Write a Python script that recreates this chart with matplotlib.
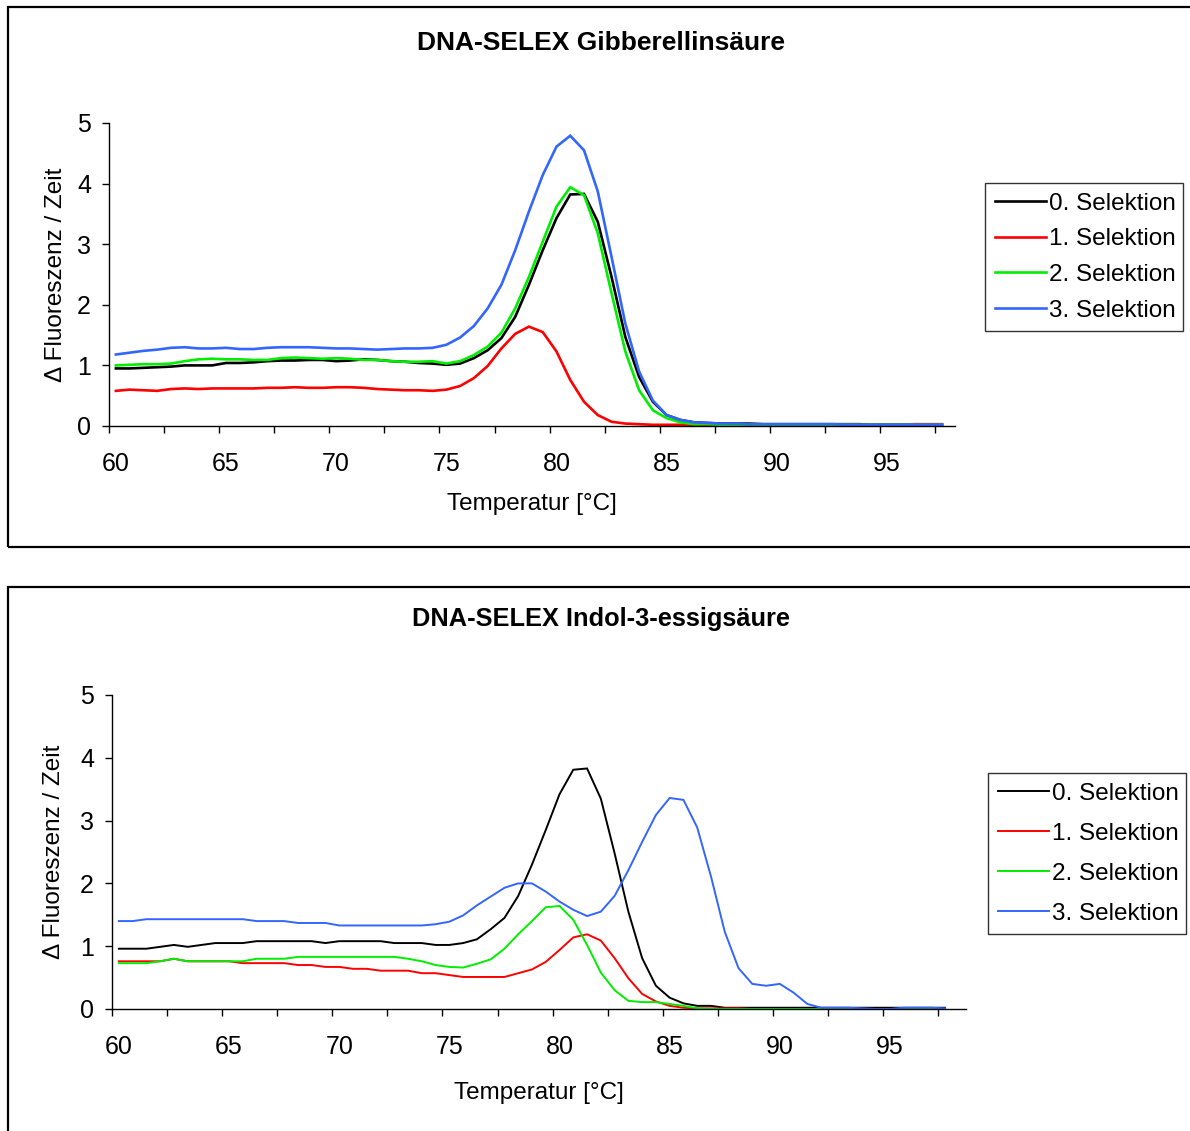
import numpy as np
import matplotlib.pyplot as plt
from matplotlib.patches import Rectangle
from matplotlib.ticker import FixedLocator

plt.rcParams['font.family'] = ['Liberation Sans', 'DejaVu Sans']

#--- Temperatur-Achse: 61 Messpunkte, 60 .. 97.5 °C
temp = 60 + 0.625 * np.arange(61)
labels = ['0. Selektion', '1. Selektion', '2. Selektion', '3. Selektion']
colors = ['#000000', '#FF0000', '#00EE00', '#3366FF']

#--- DNA-SELEX Gibberellinsäure
gib_0 = [0.95, 0.95, 0.96, 0.97, 0.98, 1.00, 1.00, 1.00, 1.04, 1.04,
         1.05, 1.07, 1.08, 1.08, 1.09, 1.09, 1.07, 1.08, 1.10, 1.09,
         1.07, 1.06, 1.04, 1.03, 1.01, 1.03, 1.12, 1.25, 1.45, 1.80,
         2.33, 2.90, 3.43, 3.82, 3.83, 3.37, 2.46, 1.47, 0.81, 0.40,
         0.18, 0.10, 0.06, 0.05, 0.04, 0.04, 0.04, 0.03, 0.03, 0.03,
         0.03, 0.03, 0.03, 0.03, 0.03, 0.02, 0.02, 0.02, 0.02, 0.02, 0.02]
gib_1 = [0.58, 0.60, 0.59, 0.58, 0.61, 0.62, 0.61, 0.62, 0.62, 0.62,
         0.62, 0.63, 0.63, 0.64, 0.63, 0.63, 0.64, 0.64, 0.63, 0.61,
         0.60, 0.59, 0.59, 0.58, 0.60, 0.66, 0.79, 0.99, 1.28, 1.52,
         1.64, 1.55, 1.23, 0.76, 0.40, 0.18, 0.07, 0.04, 0.03, 0.02,
         0.02, 0.02, 0.02, 0.02, 0.02, 0.02, 0.02, 0.02, 0.02, 0.02,
         0.02, 0.02, 0.02, 0.02, 0.02, 0.02, 0.02, 0.02, 0.03, 0.03, 0.03]
gib_2 = [1.00, 1.01, 1.02, 1.02, 1.03, 1.07, 1.10, 1.11, 1.10, 1.10,
         1.09, 1.09, 1.12, 1.13, 1.12, 1.11, 1.12, 1.11, 1.09, 1.09,
         1.07, 1.06, 1.06, 1.07, 1.03, 1.07, 1.17, 1.31, 1.54, 1.94,
         2.46, 3.04, 3.62, 3.94, 3.81, 3.18, 2.19, 1.23, 0.59, 0.26,
         0.13, 0.06, 0.03, 0.03, 0.02, 0.02, 0.02, 0.02, 0.02, 0.02,
         0.02, 0.02, 0.02, 0.02, 0.02, 0.02, 0.02, 0.02, 0.02, 0.02, 0.02]
gib_3 = [1.18, 1.21, 1.24, 1.26, 1.29, 1.30, 1.28, 1.28, 1.29, 1.27,
         1.27, 1.29, 1.30, 1.30, 1.30, 1.29, 1.28, 1.28, 1.27, 1.26,
         1.27, 1.28, 1.28, 1.29, 1.34, 1.46, 1.65, 1.94, 2.33, 2.90,
         3.54, 4.14, 4.61, 4.79, 4.55, 3.87, 2.79, 1.69, 0.90, 0.42,
         0.18, 0.10, 0.06, 0.05, 0.04, 0.04, 0.03, 0.03, 0.03, 0.03,
         0.03, 0.03, 0.03, 0.02, 0.02, 0.02, 0.02, 0.02, 0.02, 0.02, 0.02]

#--- DNA-SELEX Indol-3-essigsäure
iaa_0 = [0.96, 0.96, 0.96, 0.99, 1.02, 0.99, 1.02, 1.05, 1.05, 1.05,
         1.08, 1.08, 1.08, 1.08, 1.08, 1.05, 1.08, 1.08, 1.08, 1.08,
         1.05, 1.05, 1.05, 1.02, 1.02, 1.05, 1.11, 1.27, 1.45, 1.80,
         2.30, 2.85, 3.42, 3.81, 3.83, 3.35, 2.48, 1.55, 0.81, 0.37,
         0.18, 0.09, 0.05, 0.05, 0.02, 0.02, 0.02, 0.02, 0.02, 0.02,
         0.02, 0.02, 0.02, 0.02, 0.02, 0.02, 0.02, 0.02, 0.02, 0.02, 0.02]
iaa_1 = [0.76, 0.76, 0.76, 0.76, 0.80, 0.76, 0.76, 0.76, 0.76, 0.73,
         0.73, 0.73, 0.73, 0.70, 0.70, 0.67, 0.67, 0.64, 0.64, 0.61,
         0.61, 0.61, 0.57, 0.57, 0.54, 0.51, 0.51, 0.51, 0.51, 0.57,
         0.63, 0.75, 0.94, 1.14, 1.19, 1.09, 0.81, 0.49, 0.24, 0.12,
         0.05, 0.02, 0.01, 0.01, 0.01, 0.01, 0.00, 0.00, 0.00, 0.00,
         0.00, 0.00, 0.00, 0.00, 0.00, 0.00, 0.00, 0.00, 0.00, 0.00, 0.00]
iaa_2 = [0.73, 0.73, 0.73, 0.76, 0.80, 0.76, 0.76, 0.76, 0.76, 0.76,
         0.80, 0.80, 0.80, 0.83, 0.83, 0.83, 0.83, 0.83, 0.83, 0.83,
         0.83, 0.80, 0.76, 0.70, 0.67, 0.66, 0.72, 0.79, 0.96, 1.19,
         1.40, 1.62, 1.64, 1.42, 1.02, 0.58, 0.30, 0.13, 0.11, 0.11,
         0.08, 0.05, 0.01, 0.00, 0.00, 0.00, 0.00, 0.00, 0.00, 0.00,
         0.00, 0.00, 0.00, 0.00, 0.00, 0.00, 0.00, 0.00, 0.00, 0.00, 0.00]
iaa_3 = [1.40, 1.40, 1.43, 1.43, 1.43, 1.43, 1.43, 1.43, 1.43, 1.43,
         1.40, 1.40, 1.40, 1.37, 1.37, 1.37, 1.33, 1.33, 1.33, 1.33,
         1.33, 1.33, 1.33, 1.35, 1.39, 1.49, 1.65, 1.79, 1.93, 2.00,
         2.00, 1.87, 1.71, 1.58, 1.48, 1.55, 1.80, 2.21, 2.66, 3.09,
         3.36, 3.33, 2.89, 2.11, 1.23, 0.65, 0.40, 0.37, 0.40, 0.26,
         0.08, 0.02, 0.02, 0.02, 0.01, 0.00, 0.00, 0.02, 0.02, 0.02, 0.01]

W, H = 1190, 1131
fig = plt.figure(figsize=(W / 100, H / 100), dpi=100)

def px(x0, y0, x1, y1):
    # pixel box -> figure coords
    return [x0 / W, 1 - y1 / H, (x1 - x0) / W, (y1 - y0) / H]

# Rahmen um die beiden Diagramme
for (x0, y0, x1, y1) in [(8, 7, 1200, 547), (8, 587, 1200, 1145)]:
    fig.patches.append(Rectangle((x0 / W, 1 - y1 / H), (x1 - x0) / W, (y1 - y0) / H,
                                 transform=fig.transFigure, fill=False,
                                 edgecolor='black', linewidth=1.6))

def draw(rect, series, title, title_y, title_fs, xmax, lw, leg_rect, leg_space, xpad, ypad):
    ax = fig.add_axes(rect)
    for s, lab, c in zip(series, labels, colors):
        ax.plot(temp, s, color=c, lw=lw, label=lab, solid_joinstyle='miter')
    xmin = 60 - 0.3125
    ax.set_xlim(xmin, xmax)
    ax.set_ylim(0, 5)
    ax.spines['top'].set_visible(False)
    ax.spines['right'].set_visible(False)
    for sp in ['left', 'bottom']:
        ax.spines[sp].set_linewidth(1.0)
    ax.set_xticks(np.arange(60, 96, 5))
    ax.xaxis.set_minor_locator(FixedLocator(np.arange(xmin, xmax + 0.01, 2.5)))
    ax.tick_params(axis='x', which='major', length=0, pad=19, labelsize=18)
    ax.tick_params(axis='x', which='minor', length=5, width=1.0, direction='out')
    ax.set_yticks(range(6))
    ax.tick_params(axis='y', length=5, width=1.0, pad=8, labelsize=18)
    ax.set_xlabel('Temperatur [°C]', fontsize=17.5, labelpad=xpad)
    ax.set_ylabel('Δ Fluoreszenz / Zeit', fontsize=17.5, labelpad=ypad)
    fig.text(0.505, 1 - title_y / H, title, ha='center', va='center',
             fontsize=title_fs, fontweight='bold')
    leg = ax.legend(loc='upper left', bbox_to_anchor=leg_rect, bbox_transform=fig.transFigure,
                    fontsize=17.5, frameon=True, fancybox=False, handlelength=2.1,
                    handletextpad=0.15, labelspacing=leg_space, borderpad=0.4,
                    borderaxespad=0, mode='expand')
    leg.get_frame().set_edgecolor('black')
    leg.get_frame().set_linewidth(1.0)
    return ax

draw(px(109, 123, 955, 426), [gib_0, gib_1, gib_2, gib_3],
     'DNA-SELEX Gibberellinsäure', 43, 19, 98.09, 1.9,
     px(985, 183, 1183, 325), 0.56, 12, 7)
draw(px(112, 695, 966, 1009), [iaa_0, iaa_1, iaa_2, iaa_3],
     'DNA-SELEX Indol-3-essigsäure', 619, 18.3, 98.45, 1.4,
     px(988, 773, 1186, 932), 0.74, 16, 11)

fig.savefig('out.png', dpi=100)
